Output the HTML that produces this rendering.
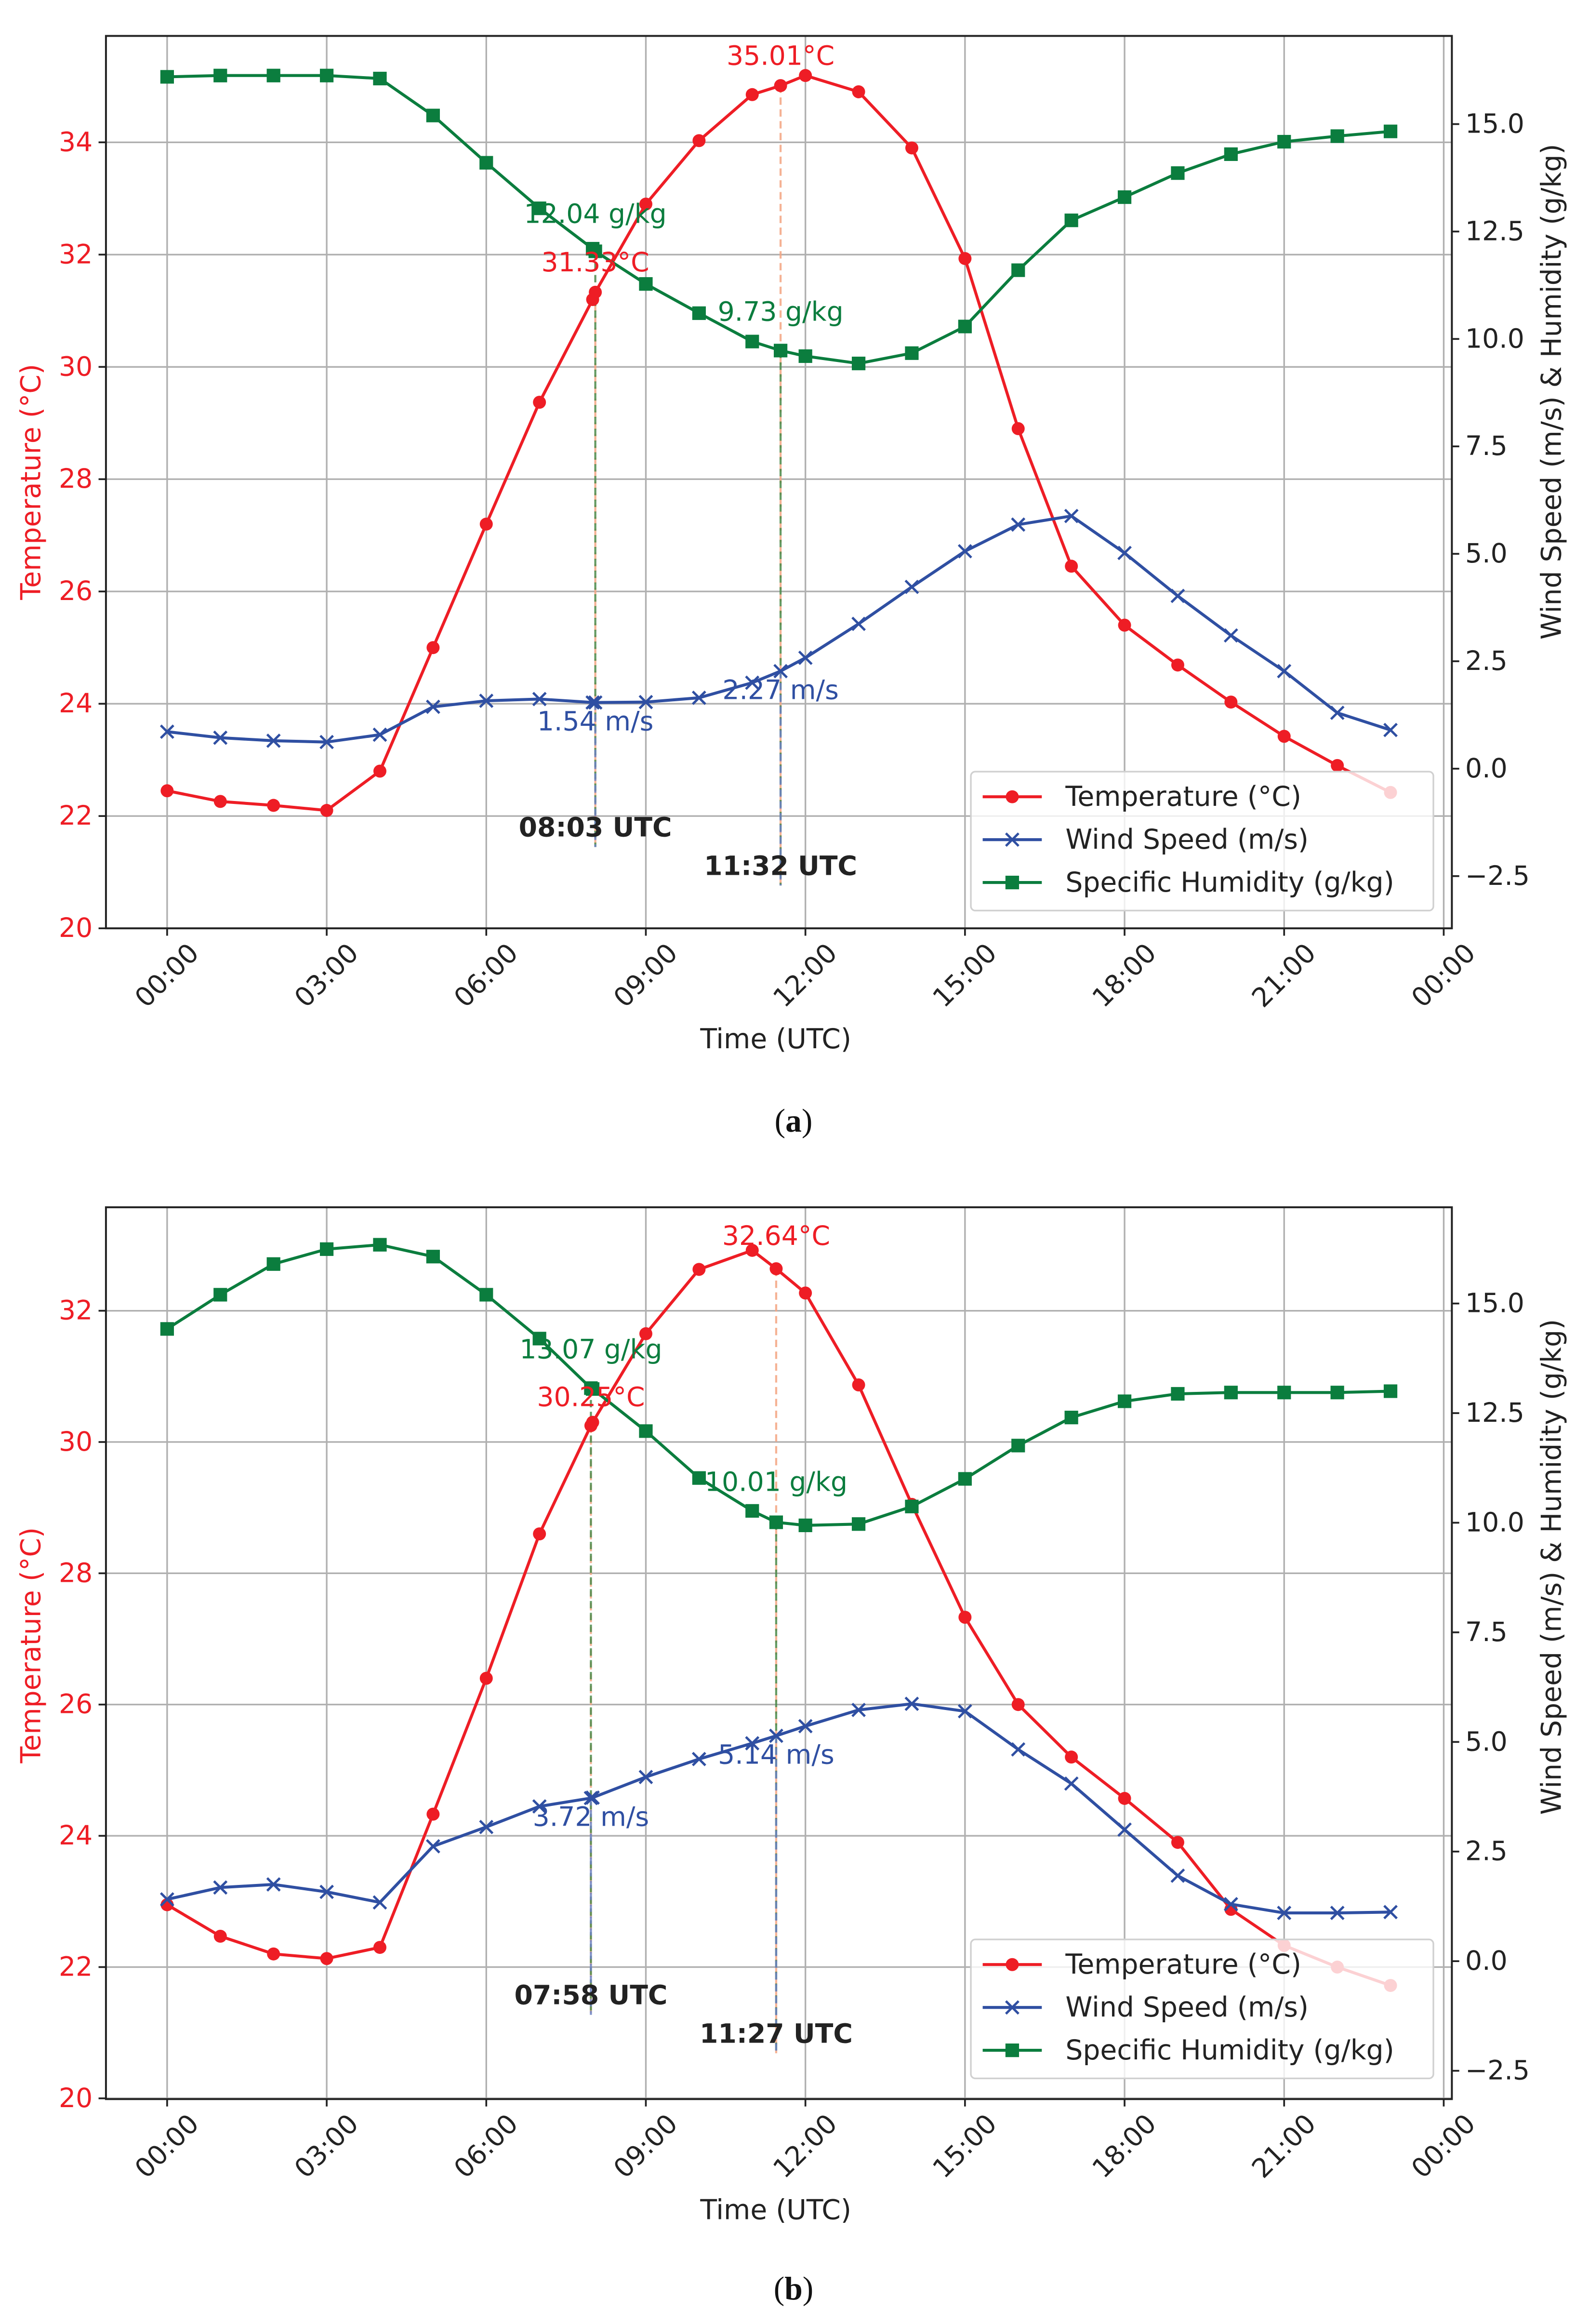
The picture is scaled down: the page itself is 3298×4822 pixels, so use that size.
<!DOCTYPE html>
<html><head><meta charset="utf-8"><style>
html,body{margin:0;padding:0;background:#fff;}
svg{display:block;font-family:"DejaVu Sans","Liberation Sans",sans-serif;}
</style></head><body>
<svg id="chart" xmlns="http://www.w3.org/2000/svg" width="3298" height="4822" viewBox="0 0 1075.3 1572.15" preserveAspectRatio="none">
<rect x="0" y="0" width="1075.3" height="1572.15" fill="#fff"/>
</svg>
<script>
// ---- data ----
const hours = [0,1,2,3,4,5,6,7,8,9,10,11,12,13,14,15,16,17,18,19,20,21,22,23];
const tempA = [22.45,22.26,22.19,22.1,22.8,25.0,27.2,29.37,31.2,32.9,34.03,34.85,35.19,34.9,33.9,31.93,28.9,26.45,25.4,24.69,24.03,23.42,22.9,22.42];
const humA  = [16.1,16.13,16.13,16.13,16.06,15.2,14.1,13.04,12.1,11.28,10.6,9.94,9.6,9.43,9.67,10.29,11.6,12.76,13.3,13.86,14.3,14.59,14.72,14.83];
const windA = [0.86,0.72,0.65,0.62,0.79,1.44,1.58,1.62,1.54,1.55,1.65,2.0,2.58,3.37,4.23,5.06,5.68,5.88,5.02,4.02,3.1,2.27,1.3,0.9];
const eventTimesA = [8.05, 11.533];
const eventLabelsA = ["08:03 UTC","11:32 UTC"];
const eventTempA = [31.33, 35.01];
const eventHumA = [12.04, 9.73];
const eventWindA = [1.54, 2.27];

const tempB = [22.95,22.47,22.2,22.13,22.3,24.33,26.4,28.6,30.3,31.65,32.63,32.92,32.27,30.87,29.05,27.33,26.0,25.2,24.57,23.9,22.88,22.33,22.0,21.72];
const humB  = [14.42,15.2,15.9,16.24,16.34,16.07,15.2,14.2,13.05,12.09,11.02,10.27,9.94,9.97,10.37,11.0,11.76,12.4,12.77,12.94,12.97,12.97,12.97,13.0];
const windB = [1.41,1.68,1.75,1.58,1.34,2.62,3.06,3.53,3.73,4.2,4.61,4.97,5.36,5.73,5.87,5.7,4.83,4.05,3.0,1.95,1.3,1.1,1.1,1.12];
const eventTimesB = [7.967, 11.45];
const eventLabelsB = ["07:58 UTC","11:27 UTC"];
const eventTempB = [30.25, 32.64];
const eventHumB = [13.07, 10.01];
const eventWindB = [3.72, 5.14];

const xTickHours = [0,3,6,9,12,15,18,21,24];
const xTickLabels = ["00:00","03:00","06:00","09:00","12:00","15:00","18:00","21:00","00:00"];
const leftTicksA = [20,22,24,26,28,30,32,34];
const leftTicksB = [20,22,24,26,28,30,32];
const rightTicks = [-2.5,0,2.5,5,7.5,10,12.5,15];
const rightTickLabels = ["\u22122.5","0.0","2.5","5.0","7.5","10.0","12.5","15.0"];

const RED="#ee1d25", BLUE="#2f4fa2", GREEN="#0b7d3e";
const NS="http://www.w3.org/2000/svg";
const svg=document.getElementById('chart');
function mk(tag,attrs,parent){const e=document.createElementNS(NS,tag);for(const k in attrs)e.setAttribute(k,attrs[k]);(parent||svg).appendChild(e);return e;}

function panel(p){
  const g=mk('g',{});
  
  
  const L=71.7,R=982.5,T=p.top,B=p.bottom;
  const x=h=>113.1+h*35.995;
  const yL=v=>p.y20-(v-20)*p.perC;
  const yR=v=>p.y0-v*p.perU;
  xTickHours.forEach((h,i)=>{
    const l=mk('line',{x1:x(h),x2:x(h),y1:T,y2:B,stroke:"#b0b0b0","stroke-width":1.1},g);
    
    
  });
  p.leftTicks.forEach(v=>{
    const l=mk('line',{x1:L,x2:R,y1:yL(v),y2:yL(v),stroke:"#b0b0b0","stroke-width":1.1},g);
    
    
  });
  p.evT.forEach((t,i)=>{
    const bot=p.evLabelY[i]+13;
    [[p.evTemp[i],yL,"#f4a582"],[p.evHum[i],yR,"#4a8a4a"],[p.evWind[i],yR,"#6a7fc0"]].forEach(([v,f,c])=>{
      const l=mk('line',{x1:x(t),x2:x(t),y1:f(v),y2:bot,stroke:c,"stroke-width":1.4,"stroke-dasharray":"5,3",opacity:0.85},g);
      
      
    });
  });
  function series(vals,evVals,f,color,marker,nm){
    const pts=hours.map((h,i)=>[h,vals[i]]);
    p.evT.forEach((t,i)=>pts.push([t,evVals[i]]));
    pts.sort((a,b)=>a[0]-b[0]);
    const d=pts.map((q,i)=>(i?'L':'M')+x(q[0]).toFixed(2)+' '+f(q[1]).toFixed(2)).join(' ');
    const path=mk('path',{d:d,fill:'none',stroke:color,'stroke-width':2,'stroke-linejoin':'round'},g);
    
    
    pts.forEach(q=>{
      const cx=x(q[0]),cy=f(q[1]);let m;
      if(marker==='o'){m=mk('circle',{cx:cx,cy:cy,r:4.4,fill:color},g);}
      else if(marker==='s'){m=mk('rect',{x:cx-4.6,y:cy-4.6,width:9.2,height:9.2,fill:color},g);}
      else {m=mk('path',{d:`M${cx-4.3} ${cy-4.3}L${cx+4.3} ${cy+4.3}M${cx-4.3} ${cy+4.3}L${cx+4.3} ${cy-4.3}`,stroke:color,'stroke-width':1.6},g);}
      
      
    });
  }
  series(p.temp,p.evTemp,yL,RED,'o','temperature');
  series(p.wind,p.evWind,yR,BLUE,'x','wind-speed');
  series(p.hum,p.evHum,yR,GREEN,'s','humidity');
  function txt(s,ax,ay,attrs,nm){const t=mk('text',Object.assign({x:ax,y:ay,'text-anchor':'middle','dominant-baseline':'central'},attrs),g);t.textContent=s;return t;}
  p.evT.forEach((t,i)=>{
    txt(p.evTemp[i].toFixed(2)+"\u00b0C",x(t),yL(p.evTemp[i])+p.offT[i],{fill:RED,'font-size':18},'temperature-annotation');
    txt(p.evHum[i].toFixed(2)+" g/kg",x(t),yR(p.evHum[i])+p.offH[i],{fill:GREEN,'font-size':18},'humidity-annotation');
    txt(p.evWind[i].toFixed(2)+" m/s",x(t),yR(p.evWind[i])+13,{fill:BLUE,'font-size':18},'wind-annotation');
    txt(p.evLabels[i],x(t),p.evLabelY[i],{fill:"#222",'font-size':18,'font-weight':'bold'},'event-time-label');
  });
  const fr=mk('rect',{x:L,y:T,width:R-L,height:B-T,fill:'none',stroke:'#222','stroke-width':1.3},g);
  
  
  xTickHours.forEach((h,i)=>{
    mk('line',{x1:x(h),x2:x(h),y1:B,y2:B+5,stroke:'#222','stroke-width':1.2},g);
    const cx=x(h),cy=B+32;
    txt(xTickLabels[i],cx,cy,{fill:'#222','font-size':18,transform:`rotate(-45 ${cx} ${cy})`},'x-tick-label');
  });
  p.leftTicks.forEach(v=>{
    mk('line',{x1:L-5,x2:L,y1:yL(v),y2:yL(v),stroke:'#222','stroke-width':1.2},g);
    txt(String(v),L-9,yL(v),{fill:RED,'font-size':18,'text-anchor':'end'},'left-tick-label');
  });
  rightTicks.forEach((v,i)=>{
    mk('line',{x1:R,x2:R+5,y1:yR(v),y2:yR(v),stroke:'#222','stroke-width':1.2},g);
    txt(rightTickLabels[i],R+9,yR(v),{fill:'#222','font-size':18,'text-anchor':'start'},'right-tick-label');
  });
  txt("Time (UTC)",525,B+75,{fill:'#222','font-size':18.5},'x-axis-title');
  txt("Temperature (\u00b0C)",21,p.midL,{fill:RED,'font-size':18.5,transform:`rotate(-90 21 ${p.midL})`},'left-axis-title');
  txt("Wind Speed (m/s) & Humidity (g/kg)",1050,p.midR,{fill:'#222','font-size':18.5,transform:`rotate(-90 1050 ${p.midR})`},'right-axis-title');
  const lg=mk('g',{},g);
  
  
  const ly=p.legTop;
  mk('rect',{x:657,y:ly,width:313,height:94,rx:3,fill:'#fff','fill-opacity':0.8,stroke:'#d0d0d0','stroke-width':1.1},lg);
  [["Temperature (\u00b0C)",RED,'o'],["Wind Speed (m/s)",BLUE,'x'],["Specific Humidity (g/kg)",GREEN,'s']].forEach((e,i)=>{
    const yy=ly+17+i*29;
    const eg=mk('g',{},lg);
    
    
    mk('line',{x1:665,x2:705,y1:yy,y2:yy,stroke:e[1],'stroke-width':2},eg);
    if(e[2]==='o')mk('circle',{cx:685,cy:yy,r:4.4,fill:e[1]},eg);
    else if(e[2]==='s')mk('rect',{x:680.4,y:yy-4.6,width:9.2,height:9.2,fill:e[1]},eg);
    else mk('path',{d:`M680.7 ${yy-4.3}L689.3 ${yy+4.3}M680.7 ${yy+4.3}L689.3 ${yy-4.3}`,stroke:e[1],'stroke-width':1.6},eg);
    const t=mk('text',{x:721,y:yy,'dominant-baseline':'central','font-size':18.5,fill:'#222'},eg);
    t.textContent=e[0];
  });
  const c=mk('text',{x:537,y:p.capY,'text-anchor':'middle','dominant-baseline':'central','font-size':22,'font-family':'"Liberation Serif",serif',fill:'#111'},svg);
  
  
  c.innerHTML='(<tspan font-weight="bold">'+p.cap+'</tspan>)';
}

panel({name:'panel-a',top:24.3,bottom:628,y20:628,perC:37.98,y0:520,perU:29.07,leftTicks:leftTicksA,
  temp:tempA,hum:humA,wind:windA,evT:eventTimesA,evLabels:eventLabelsA,evTemp:eventTempA,evHum:eventHumA,evWind:eventWindA,
  evLabelY:[560,586],offT:[-20,-20],offH:[-25,-26],midL:326,midR:265,legTop:522,capY:758,cap:'a'});
panel({name:'panel-b',top:816.7,bottom:1420,y20:1419.5,perC:44.4,y0:1326.7,perU:29.66,leftTicks:leftTicksB,
  temp:tempB,hum:humB,wind:windB,evT:eventTimesB,evLabels:eventLabelsB,evTemp:eventTempB,evHum:eventHumB,evWind:eventWindB,
  evLabelY:[1350,1376],offT:[-19,-22],offH:[-26,-27],midL:1113,midR:1060,legTop:1312,capY:1548,cap:'b'});
</script>
</body></html>
